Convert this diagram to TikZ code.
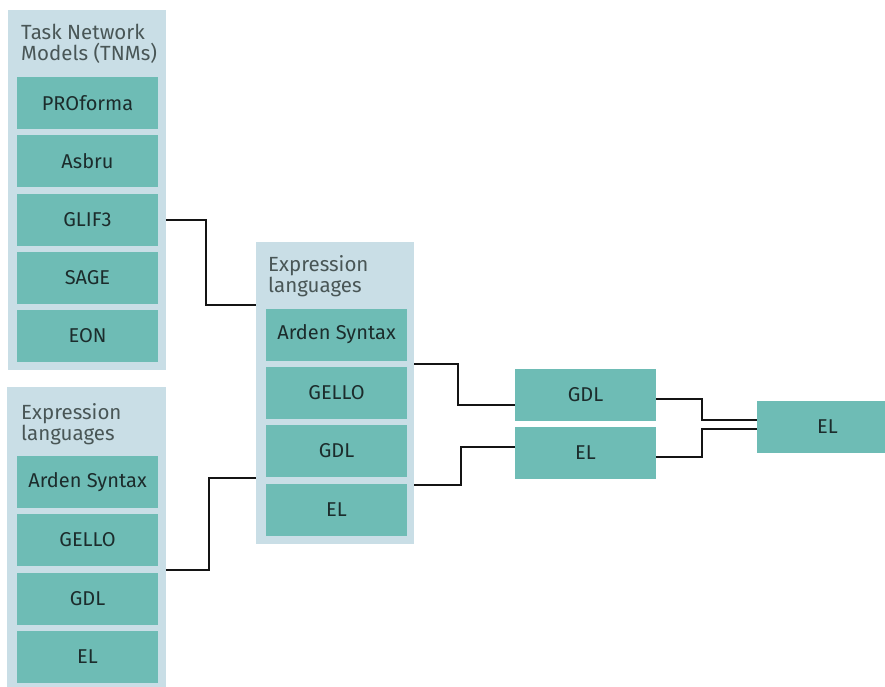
\documentclass[tikz,border=0pt]{standalone}
\usepackage{fontspec}
\setmainfont{Fira Sans}
\definecolor{panelbg}{RGB}{201,222,230}
\definecolor{itemfill}{RGB}{110,188,181}
\definecolor{inktext}{RGB}{28,44,44}
\definecolor{wire}{RGB}{20,20,20}
\begin{document}
\begin{tikzpicture}[x=1pt,y=-1pt,
  panel/.style={fill=panelbg,draw=none,inner sep=0pt,anchor=north west},
  item/.style={fill=itemfill,draw=none,inner sep=0pt,minimum width=141pt,minimum height=52pt,
    text=inktext,font=\fontsize{20}{23}\selectfont},
  paneltitle/.style={anchor=north west,inner sep=0pt,align=left,text=inktext!80,
    font=\fontsize{20.5}{21}\selectfont},
  conn/.style={draw=wire,line width=2.6pt}]
\useasboundingbox (0,0) rectangle (885,686);

% Task network models panel
\node[panel,minimum width=158pt,minimum height=360pt] (tnm) at (8,10) {};
\node[paneltitle] (tnmtitle) at (21,24) {Task Network\\Models (TNMs)};
\node[item] (proforma) at (87.5,103) {PROforma};
\node[item] (asbru) at (87.5,161) {Asbru};
\node[item] (glif) at (87.5,220) {GLIF3};
\node[item] (sage) at (87.5,278) {SAGE};
\node[item] (eon) at (87.5,336) {EON};

% Expression languages panel, lower left
\node[panel,minimum width=159pt,minimum height=310pt] (exa) at (7,387) {};
\node[paneltitle] (exatitle) at (21,403) {Expression\\languages};
\node[item] (ardena) at (87.5,482) {Arden Syntax};
\node[item] (gelloa) at (87.5,540) {GELLO};
\node[item] (gdla) at (87.5,599) {GDL};
\node[item] (ela) at (87.5,657) {EL};

% Expression languages panel, middle
\node[panel,minimum width=158pt,minimum height=302pt] (exb) at (256,242) {};
\node[paneltitle] (exbtitle) at (268,255) {Expression\\languages};
\node[item] (ardenb) at (336.5,334.5) {Arden Syntax};
\node[item] (gellob) at (336.5,393) {GELLO};
\node[item] (gdlb) at (336.5,451) {GDL};
\node[item] (elb) at (336.5,509.5) {EL};

% Selected languages
\node[item] (gdlc) at (585.5,394.5) {GDL};
\node[item] (elc) at (585.5,453) {EL};

% Final language
\node[item] (eld) at (827.5,427) {EL};

% Connectors
\coordinate (j1a) at (tnm.east |- glif.east);
\coordinate (j1b) at (206,305);
\draw[conn] (j1a) -| (j1b) -- (j1b -| exb.west);

\coordinate (j2a) at (166,570);
\coordinate (j2b) at (209,478);
\draw[conn] (j2a) -| (j2b) -- (j2b -| exb.west);

\coordinate (j3a) at (414,364);
\coordinate (j3b) at (458,405);
\draw[conn] (j3a) -| (j3b) -- (j3b -| gdlc.west);

\coordinate (j4a) at (414,485);
\coordinate (j4b) at (461,447);
\draw[conn] (j4a) -| (j4b) -- (j4b -| elc.west);

\coordinate (j5a) at (656,399);
\coordinate (j5b) at (702,420);
\draw[conn] (j5a) -| (j5b) -- (j5b -| eld.west);

\coordinate (j6a) at (656,457);
\coordinate (j6b) at (702,429);
\draw[conn] (j6a) -| (j6b) -- (j6b -| eld.west);
\end{tikzpicture}
\end{document}
